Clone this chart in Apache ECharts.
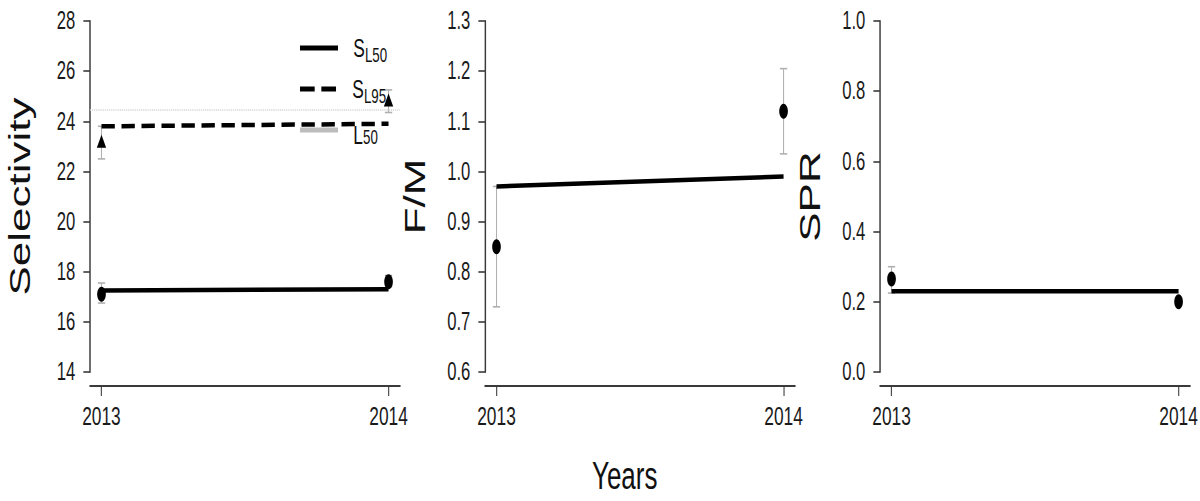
<!DOCTYPE html>
<html>
<head>
<meta charset="utf-8">
<title>Selectivity, F/M and SPR by year</title>
<script src="https://cdn.jsdelivr.net/npm/echarts@6/dist/echarts.min.js"></script>
<style>
  html, body { margin: 0; padding: 0; background: #fff; overflow: hidden; }
  /* The figure is laid out on a 1800px-wide stage and narrowed to 1200px,
     giving the tall, condensed look of the original R graphic. */
  #chart { width: 1800px; height: 501px; transform: scaleX(0.6667); transform-origin: 0 0; }
</style>
</head>
<body>
<div id="chart"></div>
<script>
// ---- data ----
const years = [2013, 2014];
const xTickLabels = ['2013', '2014'];

// Selectivity panel
const sl50Fit = [17.25, 17.3];
const sl95Fit = [23.8, 23.9];
const sl50Obs = [17.1, 17.6];
const sl50Lo = [16.75, 17.4];
const sl50Hi = [17.55, 17.85];
const sl95Obs = [23.2, 24.85];
const sl95Lo = [22.5, 24.35];
const sl95Hi = [23.8, 25.25];
const l50 = 24.45;

// F/M panel
const fmFit = [0.97, 0.99];
const fmObs = [0.85, 1.12];
const fmLo = [0.73, 1.035];
const fmHi = [0.97, 1.205];

// SPR panel
const sprFit = [0.23, 0.23];
const sprObs = [0.265, 0.20];
const sprLo = [0.225, 0.19];
const sprHi = [0.30, 0.21];

const yTitles = ['Selectivity', 'F/M', 'SPR'];
const xTitle = 'Years';
const legendNames = ['SL50', 'SL95', 'L50'];
const legendLabels = {
  'SL50': '{a|S}{b|L50}',
  'SL95': '{a|S}{b|L95}',
  'L50': '{c|L}{b|50}'
};

// ---- helpers ----
const FONT = '"Liberation Sans", Arial, Helvetica, sans-serif';
const pairs = (xs, ys) => xs.map((x, i) => [x, ys[i]]);
const triples = (xs, lo, hi) => xs.map((x, i) => [x, lo[i], hi[i]]);

function errorBars(params, api) {
  const x = api.value(0);
  const pLo = api.coord([x, api.value(1)]);
  const pHi = api.coord([x, api.value(2)]);
  const cap = 5.5;
  const st = { stroke: '#b0b0b0', lineWidth: 1.6 };
  return {
    type: 'group',
    children: [
      { type: 'line', shape: { x1: pLo[0], y1: pLo[1], x2: pHi[0], y2: pHi[1] }, style: st },
      { type: 'line', shape: { x1: pLo[0] - cap, y1: pLo[1], x2: pLo[0] + cap, y2: pLo[1] }, style: st },
      { type: 'line', shape: { x1: pHi[0] - cap, y1: pHi[1], x2: pHi[0] + cap, y2: pHi[1] }, style: st }
    ]
  };
}

const gridLefts = [135, 727.5, 1320];
const grids = gridLefts.map(l => ({ left: l, top: 21, width: 465, height: 351 }));

const xAxes = grids.map((g, i) => ({
  type: 'value', gridIndex: i, min: 2012.96, max: 2014.04,
  offset: 14,
  axisLine: { show: true, onZero: false, lineStyle: { color: '#3a3a3a', width: 2.2 } },
  axisTick: { show: true, length: 10, customValues: years, lineStyle: { color: '#3a3a3a', width: 1.6 } },
  axisLabel: {
    customValues: years, margin: 17,
    formatter: v => xTickLabels[years.indexOf(Math.round(v))] || '',
    fontFamily: FONT, fontSize: 26, color: '#1a1a1a'
  },
  splitLine: { show: false }
}));

const yCfg = [
  { min: 14, max: 28, interval: 2, fmt: v => String(Math.round(v)) },
  { min: 0.6, max: 1.3, interval: 0.1, fmt: v => v.toFixed(1) },
  { min: 0, max: 1, interval: 0.2, fmt: v => v.toFixed(1) }
];
const yAxes = yCfg.map((c, i) => ({
  type: 'value', gridIndex: i, min: c.min, max: c.max, interval: c.interval,
  name: yTitles[i], nameLocation: 'middle', nameGap: 84,
  nameTextStyle: { fontFamily: FONT, fontSize: 44, color: '#111' },
  axisLine: { show: true, lineStyle: { color: '#3a3a3a', width: 2.2 } },
  axisTick: { show: true, length: 10, lineStyle: { color: '#3a3a3a', width: 1.6 } },
  axisLabel: { formatter: c.fmt, margin: 22, fontFamily: FONT, fontSize: 25, color: '#1a1a1a' },
  splitLine: { show: false }
}));

const fitLine = (name, idx, data, dashed) => ({
  name, type: 'line', xAxisIndex: idx, yAxisIndex: idx, data,
  showSymbol: false, symbol: 'none', color: '#000', z: 4,
  lineStyle: { color: '#000', width: 4.5, type: dashed ? [20, 10] : 'solid', cap: 'butt' }
});
const errSeries = (name, idx, data) => ({
  name, type: 'custom', xAxisIndex: idx, yAxisIndex: idx, data,
  renderItem: errorBars, z: 2, silent: true
});
const points = (name, idx, data, symbol, size) => ({
  name, type: 'scatter', xAxisIndex: idx, yAxisIndex: idx, data,
  symbol, symbolSize: size, itemStyle: { color: '#000', opacity: 1 }, z: 5
});

// One legend block per key so each row sits at its own height.
const legendIcons = {
  'SL50': 'path://M0,0H57V5H0Z',
  'SL95': 'path://M0,0H22V5H0Z M32,0H54V5H32Z',
  'L50': 'path://M0,0H57V5H0Z'
};
const legendTops = [30, 71, 107];
const legends = legendNames.map((n, i) => ({
  orient: 'vertical', left: 445, top: legendTops[i],
  itemWidth: 57, itemHeight: 5,
  itemStyle: { borderWidth: 0 },
  data: [{ name: n, icon: legendIcons[n] }],
  formatter: name => legendLabels[name],
  textStyle: {
    color: '#111',
    rich: {
      a: { fontFamily: FONT, fontSize: 26, lineHeight: 36, padding: [0, 0, 0, 18], color: '#111' },
      c: { fontFamily: FONT, fontSize: 26, lineHeight: 36, padding: [10, 0, 0, 18], color: '#111' },
      b: { fontFamily: FONT, fontSize: 20, lineHeight: 36, verticalAlign: 'bottom', color: '#111' }
    }
  }
}));

const option = {
  animation: false,
  backgroundColor: '#fff',
  grid: grids,
  xAxis: xAxes,
  yAxis: yAxes,
  legend: legends,
  graphic: [{
    type: 'text', x: 937, y: 475,
    style: { text: xTitle, font: '39px ' + FONT, fill: '#111', align: 'center', verticalAlign: 'middle' }
  }],
  series: [
    // Selectivity
    {
      name: 'L50', type: 'line', xAxisIndex: 0, yAxisIndex: 0, data: [],
      color: '#bdbdbd', symbol: 'none', z: 1,
      markLine: {
        silent: true, symbol: 'none', label: { show: false },
        lineStyle: { color: '#cfcfcf', width: 1.6, type: 'dotted' },
        data: [{ yAxis: l50 }]
      }
    },
    errSeries('SL50 interval', 0, triples(years, sl50Lo, sl50Hi)),
    errSeries('SL95 interval', 0, triples(years, sl95Lo, sl95Hi)),
    fitLine('SL50', 0, pairs(years, sl50Fit), false),
    fitLine('SL95', 0, pairs(years, sl95Fit), true),
    points('SL50 estimate', 0, pairs(years, sl50Obs), 'circle', [13, 15]),
    points('SL95 estimate', 0, pairs(years, sl95Obs), 'triangle', [14, 13]),
    // F/M
    errSeries('F/M interval', 1, triples(years, fmLo, fmHi)),
    fitLine('F/M fit', 1, pairs(years, fmFit), false),
    points('F/M estimate', 1, pairs(years, fmObs), 'circle', [13, 15]),
    // SPR
    errSeries('SPR interval', 2, triples(years, sprLo, sprHi)),
    fitLine('SPR fit', 2, pairs(years, sprFit), false),
    points('SPR estimate', 2, pairs(years, sprObs), 'circle', [13, 15])
  ]
};

const chart = echarts.init(document.getElementById('chart'), null, { renderer: 'svg' });
chart.setOption(option);
</script>
</body>
</html>
